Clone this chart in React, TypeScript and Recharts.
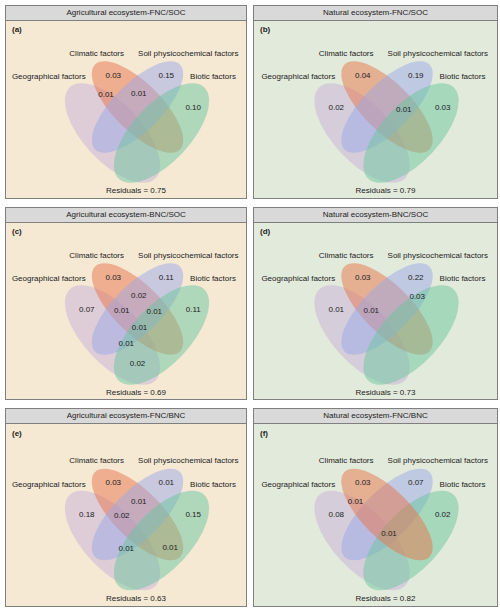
import React from 'react';
import { ScatterChart, Scatter, XAxis, YAxis } from 'recharts';

const FONT = '"Liberation Sans", Arial, Helvetica, sans-serif';

// ---------- data ----------
const panelTags = ['(a)', '(b)', '(c)', '(d)', '(e)', '(f)'];
const panelTitles = [
  'Agricultural ecosystem-FNC/SOC',
  'Natural ecosystem-FNC/SOC',
  'Agricultural ecosystem-BNC/SOC',
  'Natural ecosystem-BNC/SOC',
  'Agricultural ecosystem-FNC/BNC',
  'Natural ecosystem-FNC/BNC',
];
const panelEcosystem = ['Agricultural', 'Natural', 'Agricultural', 'Natural', 'Agricultural', 'Natural'];
const setNames = ['Geographical factors', 'Climatic factors', 'Soil physicochemical factors', 'Biotic factors'];
const setKeys = ['A', 'B', 'C', 'D'];
const residuals = [0.75, 0.79, 0.69, 0.73, 0.63, 0.82];

// region keys: A=Geographical, B=Climatic, C=Soil physicochemical, D=Biotic
const regionsA = ['B', 'C', 'AB', 'BC', 'D'];
const valuesA = [0.03, 0.15, 0.01, 0.01, 0.10];
const regionsB = ['B', 'C', 'A', 'BCD', 'D'];
const valuesB = [0.04, 0.19, 0.02, 0.01, 0.03];
const regionsC = ['B', 'C', 'BC', 'A', 'ABC', 'BCD', 'D', 'ABCD', 'ACD', 'AD'];
const valuesC = [0.03, 0.11, 0.02, 0.07, 0.01, 0.01, 0.11, 0.01, 0.01, 0.02];
const regionsD = ['B', 'C', 'CD', 'A', 'ABC'];
const valuesD = [0.03, 0.22, 0.03, 0.01, 0.01];
const regionsE = ['B', 'C', 'BC', 'A', 'ABC', 'D', 'ACD', 'BD'];
const valuesE = [0.03, 0.01, 0.01, 0.18, 0.02, 0.15, 0.01, 0.01];
const regionsF = ['B', 'C', 'AB', 'A', 'D', 'ABCD'];
const valuesF = [0.03, 0.07, 0.01, 0.08, 0.02, 0.01];

const panelRegions = [regionsA, regionsB, regionsC, regionsD, regionsE, regionsF];
const panelValues = [valuesA, valuesB, valuesC, valuesD, valuesE, valuesF];

// ---------- layout (px, relative to panel's outer top-left) ----------
const COL_LEFT = [5, 253];
const COL_W = [242, 245];
const ROW_TOP = [5, 207, 408];
const ROW_H = [194, 193, 199];
const COL_DX = [0, 1.5];
const ROW_DY = [0, 0, 4.5];
const HEADER_H = 14;

const DRAW_ORDER = [
  ['A', 'B', 'C', 'D'],
  ['A', 'B', 'C', 'D'],
  ['A', 'B', 'C', 'D'],
  ['A', 'B', 'C', 'D'],
  ['A', 'B', 'C', 'D'],
  ['A', 'C', 'D', 'B'],
];

const ELLIPSES: Record<string, { cx: number; cy: number; rx: number; ry: number; rot: number; fill: string }> = {
  A: { cx: 107.5, cy: 128, rx: 62.5, ry: 29, rot: 47, fill: '#c7b1da' },
  B: { cx: 132.5, cy: 102, rx: 60, ry: 24, rot: 45, fill: '#e8744a' },
  C: { cx: 132.5, cy: 102, rx: 60, ry: 24, rot: -45, fill: '#9ba7e8' },
  D: { cx: 156.5, cy: 128, rx: 62.5, ry: 29, rot: -47, fill: '#69c59e' },
};

const REGION_POS: Record<string, [number, number]> = {
  A: [81.8, 102.2],
  B: [108.3, 70],
  C: [161.3, 70],
  D: [188.2, 102.2],
  AB: [101, 89.3],
  BC: [133.8, 88.5],
  CD: [162.7, 89.7],
  ABC: [116.8, 103.3],
  BCD: [149.3, 104],
  ABCD: [134.5, 120.5],
  ACD: [121.3, 136],
  BD: [165.2, 135.2],
  AD: [132.5, 156.3],
};

const SET_LABEL_POS: Record<string, [number, number]> = {
  A: [43.8, 71.7],
  B: [91.7, 48.3],
  C: [183.3, 48.3],
  D: [208, 71.7],
};
const RESID_POS: [number, number] = [131, 185.7];

const BG: Record<string, string> = { Agricultural: '#f5e9d4', Natural: '#e2eadb' };

const EllipseShape = (props: any) => {
  const { cx, cy, payload } = props;
  if (cx == null || cy == null) return <g />;
  const k = payload.k;
  return (
    <ellipse
      cx={cx}
      cy={cy}
      rx={payload.rx * k}
      ry={payload.ry * k}
      transform={`rotate(${payload.rot} ${cx} ${cy})`}
      fill={payload.fill}
      fillOpacity={0.5}
      stroke="none"
    />
  );
};

const TextShape = (props: any) => {
  const { cx, cy, payload } = props;
  if (cx == null || cy == null) return <g />;
  return (
    <text
      x={cx}
      y={cy}
      textAnchor={payload.anchor}
      dominantBaseline="central"
      fontSize={8}
      fontWeight={payload.bold ? 'bold' : 'normal'}
      fontFamily={FONT}
      fill="#222"
    >
      {payload.text}
    </text>
  );
};

function VennPanel({ idx }: { idx: number }) {
  const col = idx % 2;
  const row = Math.floor(idx / 2);
  const W = COL_W[col];
  const H = ROW_H[row];
  const innerW = W - 2;
  const innerH = H - 2;
  const dx = COL_DX[col];
  const dy = ROW_DY[row];
  const k = 1;

  const ellipseData = DRAW_ORDER[idx].map((s) => {
    const e = ELLIPSES[s];
    return { x: e.cx + dx, y: e.cy + dy, rx: e.rx, ry: e.ry, rot: e.rot, fill: e.fill, k };
  });

  const textData: any[] = [];
  setKeys.forEach((s, i) => {
    const p = SET_LABEL_POS[s];
    textData.push({ x: p[0] + dx, y: p[1] + dy, text: setNames[i], anchor: 'middle' });
  });
  panelRegions[idx].forEach((r, i) => {
    const p = REGION_POS[r];
    textData.push({ x: p[0] + dx, y: p[1] + dy, text: panelValues[idx][i].toFixed(2), anchor: 'middle' });
  });
  textData.push({
    x: RESID_POS[0] + dx,
    y: RESID_POS[1] + dy,
    text: `Residuals = ${residuals[idx].toFixed(2)}`,
    anchor: 'middle',
  });
  textData.push({ x: 7, y: 24 + (row === 2 ? 1 : 0), text: panelTags[idx], anchor: 'start', bold: true });

  return (
    <div
      style={{
        position: 'absolute',
        left: COL_LEFT[col],
        top: ROW_TOP[row],
        width: innerW,
        height: innerH,
        border: '1px solid #7f7f7f',
        background: BG[panelEcosystem[idx]],
        overflow: 'hidden',
      }}
    >
      <div
        style={{
          position: 'absolute',
          left: 0,
          top: 0,
          width: innerW,
          height: HEADER_H,
          background: '#d9d9d9',
          borderBottom: '1px solid #7f7f7f',
          fontFamily: FONT,
          fontSize: 8,
          lineHeight: `${HEADER_H}px`,
          textAlign: 'center',
          color: '#222',
        }}
      >
        {panelTitles[idx]}
      </div>
      <div style={{ position: 'absolute', left: 0, top: 0 }}>
        <ScatterChart width={innerW} height={innerH} margin={{ top: 0, right: 0, bottom: 0, left: 0 }}>
          <XAxis type="number" dataKey="x" domain={[1, innerW + 1]} allowDataOverflow hide />
          <YAxis type="number" dataKey="y" domain={[1, innerH + 1]} allowDataOverflow reversed hide />
          <Scatter data={ellipseData} shape={EllipseShape} isAnimationActive={false} />
          <Scatter data={textData} shape={TextShape} isAnimationActive={false} />
        </ScatterChart>
      </div>
    </div>
  );
}

export default function App() {
  return (
    <div style={{ position: 'absolute', left: 0, top: 0, width: 500, height: 613, background: '#fff' }}>
      {[0, 1, 2, 3, 4, 5].map((i) => (
        <VennPanel key={i} idx={i} />
      ))}
    </div>
  );
}
